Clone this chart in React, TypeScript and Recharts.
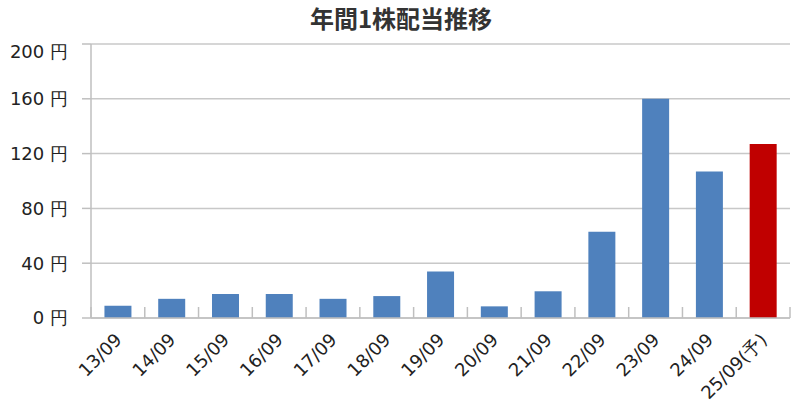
import { Bar, BarChart, CartesianGrid, Cell, XAxis, YAxis } from "recharts";

// 決算期ラベル / 年間1株配当 (円)
const periods = ["13/09", "14/09", "15/09", "16/09", "17/09", "18/09", "19/09", "20/09", "21/09", "22/09", "23/09", "24/09", "25/09(予)"];
const dividends = [9, 14, 17.5, 17.5, 14, 16, 34, 8.5, 19.5, 63, 160, 107, 127];
const forecast = [false, false, false, false, false, false, false, false, false, false, false, false, true];
const yTicks = [0, 40, 80, 120, 160, 200];

const data = periods.map((p, i) => ({ period: p, value: dividends[i], forecast: forecast[i] }));

const W = 802;
const H = 412;
const TITLE_H = 40;
const X_H = 30;
const MARGIN = { top: 4, right: 12, bottom: 94 - X_H, left: 0 };
const Y_W = 91;
const BAND = (W - MARGIN.left - MARGIN.right - Y_W) / periods.length;
const AXIS_COLOR = "#bfbfbf";
const FONT = "'DejaVu Sans', Verdana, sans-serif";

// 斜めラベル + 区切りの目盛り線 (カテゴリ境界)
function PeriodTick(props: any) {
  const { x, y, payload, index } = props;
  const axisY = y - 8; // tick y は軸から少し下にずれて渡される
  const left = x - BAND / 2;
  const tx = x + 5;
  const ty = y + 15;
  return (
    <g>
      <line x1={left} x2={left} y1={axisY - 11} y2={axisY} stroke={AXIS_COLOR} strokeWidth={1.5} />
      {index === periods.length - 1 && (
        <line x1={x + BAND / 2} x2={x + BAND / 2} y1={axisY - 11} y2={axisY} stroke={AXIS_COLOR} strokeWidth={1.5} />
      )}
      <text
        x={tx}
        y={ty}
        transform={`rotate(-45 ${tx} ${ty})`}
        textAnchor="end"
        fontSize={18}
        fontFamily={FONT}
        fill="#222"
      >
        {payload.value}
      </text>
    </g>
  );
}

export default function App() {
  return (
    <div style={{ position: "absolute", left: 0, top: 0, width: W, height: H, background: "#fff" }}>
      <div
        style={{
          height: TITLE_H,
          textAlign: "center",
          fontFamily: "'Noto Sans CJK JP', sans-serif",
          fontWeight: 700,
          fontSize: 24,
          color: "#333",
          lineHeight: "35px",
        }}
      >
        年間1株配当推移
      </div>
      <BarChart width={W} height={H - TITLE_H} data={data} margin={MARGIN} barCategoryGap="25%">
        <CartesianGrid vertical={false} stroke="#c8c8c8" strokeWidth={1.5} />
        <XAxis
          dataKey="period"
          height={X_H}
          interval={0}
          tickLine={false}
          axisLine={{ stroke: AXIS_COLOR, strokeWidth: 1.5 }}
          tick={<PeriodTick />}
        />
        <YAxis
          width={Y_W}
          domain={[0, 200]}
          ticks={yTicks}
          tickFormatter={(v: number) => `${v} 円`}
          axisLine={{ stroke: AXIS_COLOR, strokeWidth: 1.5 }}
          tickLine={{ stroke: AXIS_COLOR, strokeWidth: 1.5 }}
          tickSize={9}
          tickMargin={14}
          tick={{ fontSize: 18, fontFamily: FONT, fill: "#222" }}
        />
        <Bar dataKey="value" isAnimationActive={false}>
          {data.map((d) => (
            <Cell key={d.period} fill={d.forecast ? "#c00000" : "#4f81bd"} />
          ))}
        </Bar>
      </BarChart>
    </div>
  );
}
